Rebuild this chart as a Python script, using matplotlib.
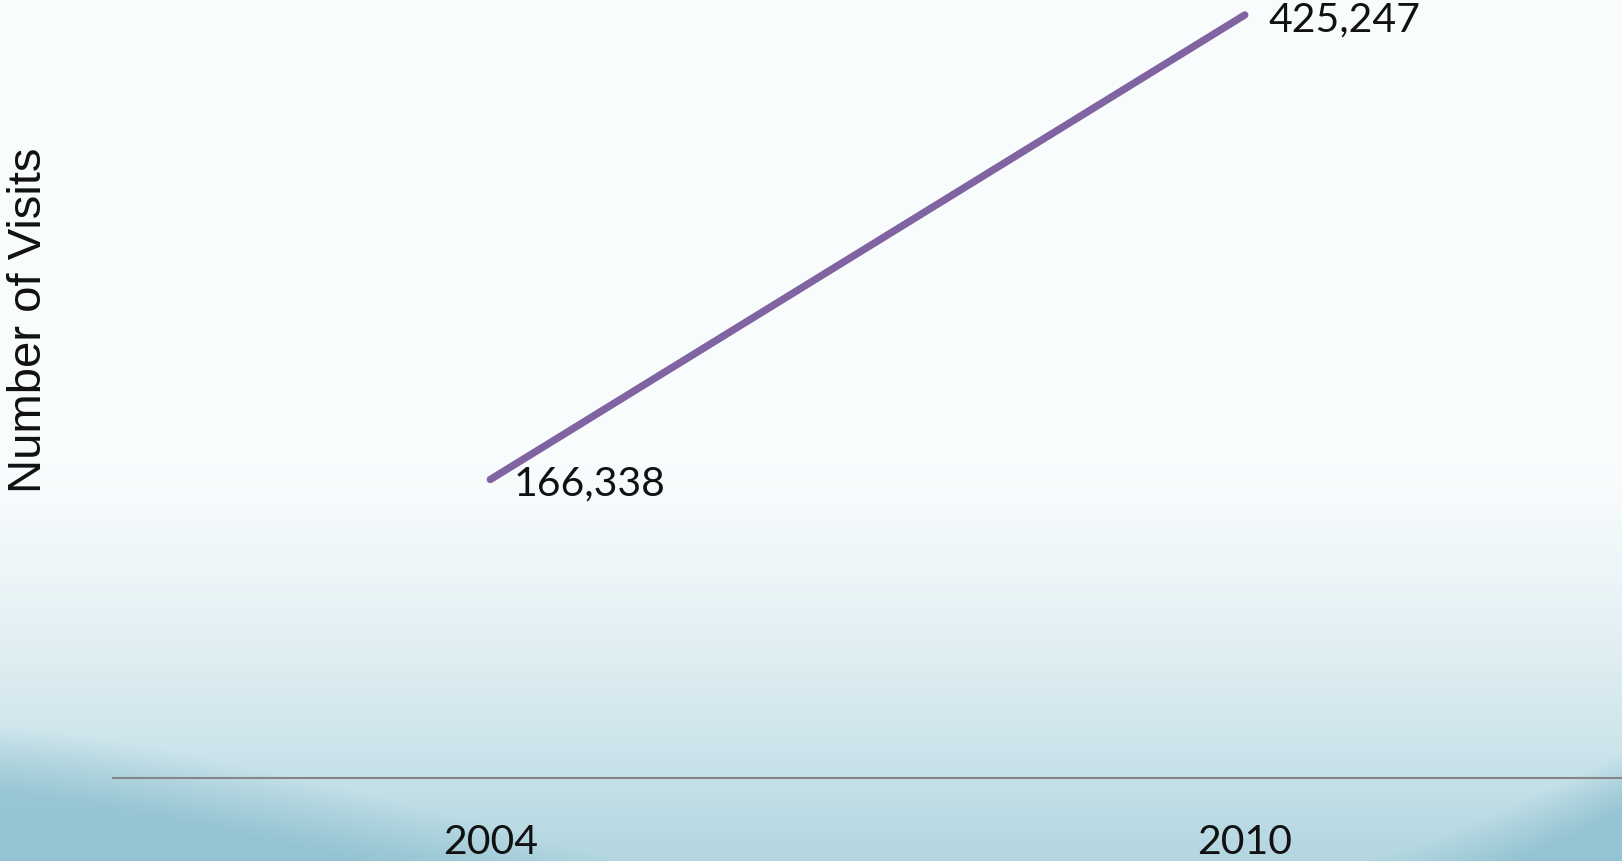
import numpy as np
import matplotlib
matplotlib.use("Agg")
import matplotlib.pyplot as plt

# data
years = ["2004", "2010"]
visits = [166338, 425247]

W, H = 1622, 861
fig = plt.figure(figsize=(W / 100, H / 100), dpi=100)

# slide-like background: white fading into light blue, darker swooshes in the bottom corners
yy, xx = np.mgrid[0:H, 0:W]
t = yy / (H - 1.0)
top = np.array([0.98, 0.99, 0.995])
bottom = np.array([0.70, 0.84, 0.88])
w = np.clip((t - 0.52) / 0.48, 0, 1) ** 1.4
img = top + (bottom - top) * w[..., None]

dark = np.array([0.55, 0.75, 0.81])
# bottom-left swoosh
curve_l = 725 + (xx / 640.0) ** 1.3 * 140
m_l = np.clip((yy - curve_l) / 70.0, 0, 1) * (xx < 700)
# bottom-right swoosh
curve_r = 861 - ((xx - 1360) / 262.0).clip(0, 1) ** 1.2 * 110
m_r = np.clip((yy - curve_r) / 60.0, 0, 1) * (xx > 1360)
m = np.maximum(m_l, m_r)[..., None] * 0.8
img = img * (1 - m) + dark * m

bg = fig.add_axes([0, 0, 1, 1])
bg.imshow(img, aspect="auto", extent=[0, 1, 0, 1], interpolation="bilinear")
bg.axis("off")

ax = fig.add_axes([113 / W, 83 / H, 1 - 113 / W, 778 / H])
ax.patch.set_alpha(0)
x = np.arange(len(years))
ax.plot(x, visits, color="#8064a2", lw=5.3, solid_capstyle="round", clip_on=False)

for i, v in enumerate(visits):
    ax.annotate(f"{v:,}", (i, v), xytext=(17, -3.5), textcoords="offset points",
                ha="left", va="center", fontsize=29.5, family="Lato", color="#111111")

ax.set_xlim(-0.5, 1.5)
ax.set_ylim(0, 433600)
ax.set_yticks([])
ax.set_xticks(x, years, fontsize=29.5, family="Lato", color="#111111")
ax.tick_params(axis="x", length=0, pad=33)
for s in ["top", "right", "left"]:
    ax.spines[s].set_visible(False)
ax.spines["bottom"].set_color("#868686")
ax.spines["bottom"].set_linewidth(1.5)

fig.text(29 / W, 1 - 320 / H, "Number of Visits", rotation=90, ha="center", va="center",
         fontsize=34, family="Liberation Sans", color="#111111")

fig.savefig("out.png", dpi=100)
